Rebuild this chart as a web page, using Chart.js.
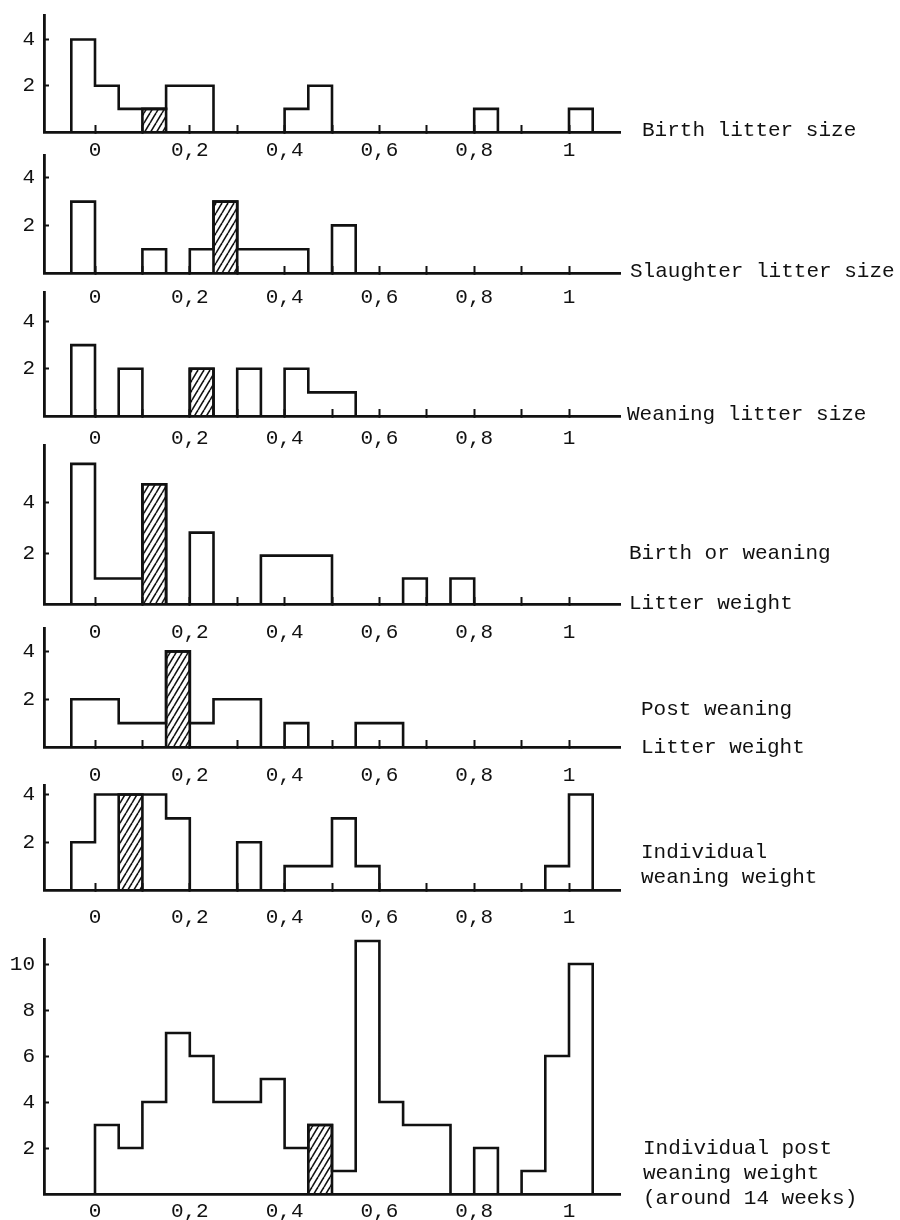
<!DOCTYPE html>
<html>
<head>
<meta charset="utf-8">
<script src="https://cdn.jsdelivr.net/npm/chart.js@4.4.1/dist/chart.umd.min.js"></script>
<style>
  body { margin: 0; background: #fff; }
  #page { position: relative; width: 900px; height: 1220px; overflow: hidden; }
  #page canvas { position: absolute; left: 0; }
  .label { position: absolute; font-family: 'Liberation Mono', monospace; font-size: 21px; line-height: 25px; color: #111; white-space: pre; }
</style>
</head>
<body>
<div id="page"></div>
<script>
// classes of width 0,05 : left edge of each class
const binStarts = [-0.05, 0, 0.05, 0.1, 0.15, 0.2, 0.25, 0.3, 0.35, 0.4, 0.45, 0.5,
                   0.55, 0.6, 0.65, 0.7, 0.75, 0.8, 0.85, 0.9, 0.95, 1.0];
const binWidth = 0.05;

const xTickValues = [0, 0.1, 0.2, 0.3, 0.4, 0.5, 0.6, 0.7, 0.8, 0.9, 1];
const xTickLabels = ['0', '', '0,2', '', '0,4', '', '0,6', '', '0,8', '', '1'];
const yTicksSmall = [2, 4];
const yTicksBig = [2, 4, 6, 8, 10];

// counts per class (one value per binStarts entry)
const birthLitterSize       = [4, 2, 1, 1, 2, 2, 0, 0, 0, 1, 2, 0, 0, 0, 0, 0, 0, 1, 0, 0, 0, 1];
const slaughterLitterSize   = [3, 0, 0, 1, 0, 1, 3, 1, 1, 1, 0, 2, 0, 0, 0, 0, 0, 0, 0, 0, 0, 0];
const weaningLitterSize     = [3, 0, 2, 0, 0, 2, 0, 2, 0, 2, 1, 1, 0, 0, 0, 0, 0, 0, 0, 0, 0, 0];
const birthWeaningLitterWt  = [5.5, 1, 1, 4.7, 0, 2.8, 0, 0, 1.9, 1.9, 1.9, 0, 0, 0, 1, 0, 1, 0, 0, 0, 0, 0];
const postWeaningLitterWt   = [2, 2, 1, 1, 4, 1, 2, 2, 0, 1, 0, 0, 1, 1, 0, 0, 0, 0, 0, 0, 0, 0];
const indivWeaningWt        = [2, 4, 4, 4, 3, 0, 0, 2, 0, 1, 1, 3, 1, 0, 0, 0, 0, 0, 0, 0, 1, 4];
const indivPostWeaningWt    = [0, 3, 2, 4, 7, 6, 4, 4, 5, 2, 3, 1, 11, 4, 3, 3, 0, 2, 0, 1, 6, 10];

// index of the hatched class in each histogram
const hatchedBins = [3, 6, 5, 3, 4, 2, 10];

const panelTitles = [
  ['Birth litter size'],
  ['Slaughter litter size'],
  ['Weaning litter size'],
  ['Birth or weaning', 'Litter weight'],
  ['Post weaning', 'Litter weight'],
  ['Individual', 'weaning weight'],
  ['Individual post', 'weaning weight', '(around 14 weeks)']
];

// layout of each panel (page pixels)
const layout = [
  { counts: birthLitterSize,      yTicks: yTicksSmall, top: 15,  base: 132,  yMax: 5.06, gap: 18, lx: [642], ly: [130] },
  { counts: slaughterLitterSize,  yTicks: yTicksSmall, top: 155, base: 273,  yMax: 4.96, gap: 24, lx: [630], ly: [271] },
  { counts: weaningLitterSize,    yTicks: yTicksSmall, top: 292, base: 416,  yMax: 5.25, gap: 22, lx: [627], ly: [414] },
  { counts: birthWeaningLitterWt, yTicks: yTicksSmall, top: 445, base: 604,  yMax: 6.24, gap: 28, lx: [629, 629], ly: [553, 603] },
  { counts: postWeaningLitterWt,  yTicks: yTicksSmall, top: 628, base: 747,  yMax: 4.98, gap: 28, lx: [641, 641], ly: [709, 747] },
  { counts: indivWeaningWt,       yTicks: yTicksSmall, top: 785, base: 890,  yMax: 4.4,  gap: 27, lx: [641, 641], ly: [852, 877] },
  { counts: indivPostWeaningWt,   yTicks: yTicksBig,   top: 939, base: 1194, yMax: 11.09, gap: 17, lx: [643, 643, 643], ly: [1148, 1173, 1198], noTicks: true }
];

const INK = '#111';
// top padding must exceed the y labels' own padding (half line + tick padding)
const PAD_TOP = 32, AXIS_H = 45, AXIS_LEFT = 44, CANVAS_W = 660, AREA_RIGHT = 620;
// value 0 sits at x=95 and value 1 at x=569
const X0 = 95, XSPAN = 474;
const xMin = (AXIS_LEFT - X0) / XSPAN;
const xMax = (AREA_RIGHT - X0) / XSPAN;

Chart.defaults.font.family = "'Liberation Mono', monospace";
Chart.defaults.font.size = 21;
Chart.defaults.color = INK;

function makeHatch() {
  const c = document.createElement('canvas');
  c.width = 6; c.height = 10;
  const g = c.getContext('2d');
  g.strokeStyle = INK;
  g.lineWidth = 1.6;
  for (let k = -1; k <= 1; k++) {
    g.beginPath();
    g.moveTo(k * 6, 10);
    g.lineTo(k * 6 + 6, 0);
    g.stroke();
  }
  return g.createPattern(c, 'repeat');
}

// outline of the histogram: a vertical and a horizontal run per class
function outlinePoints(counts) {
  const pts = [];
  let prev = 0;
  counts.forEach((c, i) => {
    pts.push({ x: binStarts[i], y: prev });
    pts.push({ x: binStarts[i], y: c });
    prev = c;
  });
  const end = binStarts[counts.length - 1] + binWidth;
  pts.push({ x: end, y: prev });
  pts.push({ x: end, y: 0 });
  return pts;
}

function hatchPoints(counts, idx) {
  const lo = binStarts[idx], hi = lo + binWidth, h = counts[idx];
  return [{ x: lo, y: 0 }, { x: lo, y: h }, { x: hi, y: h }, { x: hi, y: 0 }];
}

// runs lying on the axis are left to the axis line
const hideEmpty = ctx => (ctx.p0.parsed.y === 0 && ctx.p1.parsed.y === 0) ? 'rgba(0,0,0,0)' : INK;

const page = document.getElementById('page');
const hatch = makeHatch();

layout.forEach((p, n) => {
  const canvas = document.createElement('canvas');
  canvas.width = CANVAS_W;
  canvas.height = (p.base - p.top) + PAD_TOP + AXIS_H;
  canvas.style.top = (p.top - PAD_TOP) + 'px';
  page.appendChild(canvas);

  new Chart(canvas, {
    type: 'line',
    data: {
      datasets: [
        {
          data: hatchPoints(p.counts, hatchedBins[n]),
          borderColor: INK, borderWidth: 2.6,
          backgroundColor: hatch, fill: 'origin',
          pointRadius: 0, tension: 0
        },
        {
          data: outlinePoints(p.counts),
          borderColor: INK, borderWidth: 2.6,
          fill: false, pointRadius: 0, tension: 0,
          segment: { borderColor: hideEmpty }
        }
      ]
    },
    options: {
      responsive: false,
      animation: false,
      devicePixelRatio: 1,
      layout: { padding: { top: PAD_TOP, right: CANVAS_W - AREA_RIGHT, left: 0, bottom: 0 } },
      plugins: { legend: { display: false }, tooltip: { enabled: false } },
      scales: {
        x: {
          type: 'linear', min: xMin, max: xMax,
          afterBuildTicks: s => { s.ticks = xTickValues.map(v => ({ value: v })); },
          afterFit: s => { s.height = AXIS_H; },
          ticks: {
            autoSkip: false, maxRotation: 0, minRotation: 0,
            padding: p.gap - 5.6,
            callback: (v, i) => xTickLabels[i]
          },
          grid: {
            drawOnChartArea: false, drawTicks: true, tickLength: -7, tickWidth: 2,
            tickColor: p.noTicks ? 'rgba(0,0,0,0)' : INK
          },
          border: { color: INK, width: 2.8 }
        },
        y: {
          type: 'linear', min: 0, max: p.yMax,
          afterBuildTicks: s => { s.ticks = p.yTicks.map(v => ({ value: v })); },
          afterFit: s => { s.width = AXIS_LEFT; },
          ticks: { padding: 14, callback: v => String(v) },
          grid: { drawOnChartArea: false, drawTicks: true, tickLength: -5, tickWidth: 2, tickColor: INK },
          border: { color: INK, width: 2.8 }
        }
      }
    }
  });

  panelTitles[n].forEach((t, k) => {
    const d = document.createElement('div');
    d.className = 'label';
    d.textContent = t;
    d.style.left = p.lx[k] + 'px';
    d.style.top = (p.ly[k] - 12.5) + 'px';
    page.appendChild(d);
  });
});
</script>
</body>
</html>
